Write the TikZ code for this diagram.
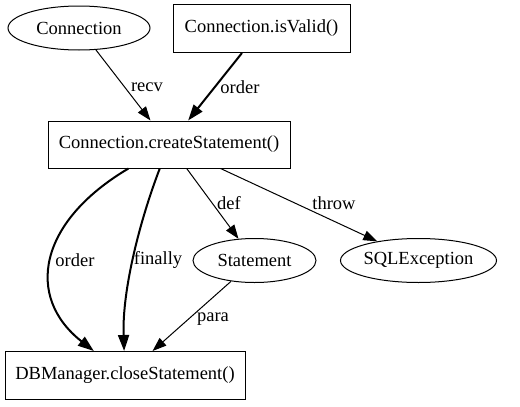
\documentclass[tikz,border=0pt]{standalone}
\usepackage{fontspec}
\setmainfont{Liberation Serif}
\usetikzlibrary{arrows.meta,shapes.geometric}
\begin{document}
\begin{tikzpicture}[x=1pt,y=-1pt,
  every node/.style={font=\rmfamily\fontsize{18.5}{22}\selectfont},
  boxn/.style={draw,line width=1pt,rectangle,inner sep=0pt,anchor=center},
  elln/.style={draw,line width=1pt,ellipse,inner sep=0pt,anchor=center},
  edge/.style={line width=1pt,-{Triangle[length=14pt,width=10pt]}},
  thickedge/.style={line width=2pt,-{Triangle[length=16pt,width=11pt]}},
  lbl/.style={inner sep=0pt,anchor=center}]
\useasboundingbox (0,0) rectangle (520,407);
\node[elln,minimum width=142pt,minimum height=44pt] (conn) at (79,28) {Connection};
\node[boxn,minimum width=177pt,minimum height=48pt] (valid) at (261.5,28.5) {Connection.isValid()};
\node[boxn,minimum width=242pt,minimum height=47pt] (create) at (169,144.5) {Connection.createStatement()};
\node[elln,minimum width=123pt,minimum height=44pt] (stmt) at (254.5,260.5) {Statement};
\node[elln,minimum width=156pt,minimum height=44pt] (sqle) at (418.5,260.5) {SQLException};
\node[boxn,minimum width=240pt,minimum height=48pt] (close) at (125,375.5) {DBManager.closeStatement()};

\draw[edge] (conn) -- (create);
\node[lbl] at (147,87) {recv};
\draw[thickedge] (valid) -- (create);
\node[lbl] at (240,87) {order};
\draw[thickedge] (create) .. controls (38,222) and (25,297) .. (close);
\node[lbl] at (75,260) {order};
\draw[thickedge] (create) .. controls (140,220) and (122,290) .. (close);
\node[lbl] at (158,260) {finally};
\draw[edge] (create) -- (stmt);
\node[lbl] at (229,203) {def};
\draw[edge] (create) -- (sqle);
\node[lbl] at (334,203) {throw};
\draw[edge] (stmt) -- (close);
\node[lbl] at (213,319) {para};
\end{tikzpicture}
\end{document}
